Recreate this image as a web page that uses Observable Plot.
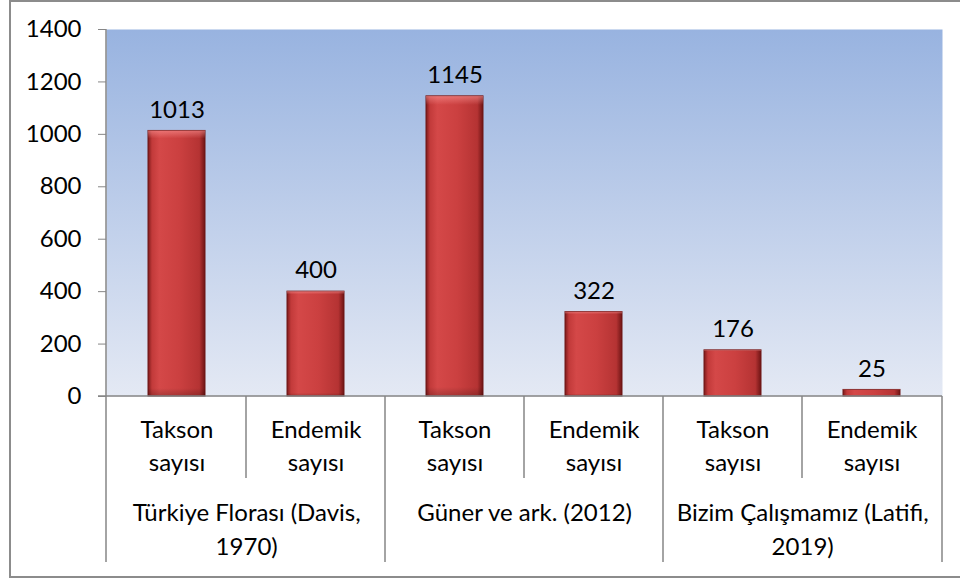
<!DOCTYPE html>
<html><head><meta charset="utf-8">
<script src="https://cdn.jsdelivr.net/npm/d3@7"></script>
<script src="https://cdn.jsdelivr.net/npm/@observablehq/plot@0.6"></script>
<style>
body{margin:0;background:#fff;}
#wrap{position:relative;width:960px;height:578px;overflow:hidden;font-family:Lato,sans-serif;}
#border{position:absolute;left:9px;top:0;width:990px;height:574px;border:2px solid #8c8c8c;}
#chart{position:absolute;left:0;top:0;}
</style></head><body>
<div id="wrap"><div id="border"></div><div id="chart"></div></div>
<script>
// ---- data ----
const groups = ["Türkiye Florası (Davis, 1970)", "Güner ve ark. (2012)", "Bizim Çalışmamız (Latifi, 2019)"];
const groupLabels = ["Türkiye Florası (Davis,\n1970)", "Güner ve ark. (2012)", "Bizim Çalışmamız (Latifi,\n2019)"];
const subcategories = ["Takson sayısı", "Endemik sayısı"];
const subLabels = ["Takson\nsayısı", "Endemik\nsayısı"];
const values = [1013, 400, 1145, 322, 176, 25];
const yTicks = [0, 200, 400, 600, 800, 1000, 1200, 1400];

// ---- tables ----
const data = values.map((v, i) => ({
  key: groups[Math.floor(i / 2)] + "|" + subcategories[i % 2],
  group: groups[Math.floor(i / 2)],
  subLabel: subLabels[i % 2],
  value: v
}));
const keys = data.map(d => d.key);
const groupData = groups.map((g, i) => ({key: keys[i * 2], label: groupLabels[i]}));

const W = 960, H = 578, mL = 106, mR = 18, mT = 29, mB = 182;
const step = (W - mL - mR) / keys.length;
const FS = 24;

function tableLines(index, scales, vals, dims) {
  const x = scales.x, y = scales.y;
  const st = x.step ? x.step() : step;
  const bw = x.bandwidth ? x.bandwidth() : st * 0.41;
  const y0 = y(0);
  const left = dims.marginLeft, right = dims.width - dims.marginRight;
  const innerBottom = y0 + 82, groupBottom = y0 + 166;
  const g = d3.create("svg:g").attr("stroke", "#868686").attr("stroke-width", 1.5).attr("fill", "none");
  g.append("line").attr("x1", left).attr("x2", left).attr("y1", dims.marginTop).attr("y2", groupBottom);
  g.append("line").attr("x1", left - 8).attr("x2", right).attr("y1", y0).attr("y2", y0);
  g.append("line").attr("x1", right).attr("x2", right).attr("y1", y0).attr("y2", groupBottom);
  keys.forEach((k, i) => {
    if (i === 0) return;
    const bx = x(k) - (st - bw) / 2;
    g.append("line").attr("x1", bx).attr("x2", bx).attr("y1", y0)
      .attr("y2", i % 2 === 0 ? groupBottom : innerBottom);
  });
  return g.node();
}

const svg = Plot.plot({
  width: W, height: H,
  marginLeft: mL, marginRight: mR, marginTop: mT, marginBottom: mB,
  style: {fontFamily: "Lato, sans-serif", fontSize: FS + "px", color: "black", background: "transparent", overflow: "visible"},
  x: {domain: keys, paddingInner: 0.59, paddingOuter: 0.295, axis: null},
  y: {domain: [0, 1400], axis: null},
  marks: [
    Plot.frame({fill: "url(#bgGrad)", stroke: "none"}),
    Plot.axisY({ticks: yTicks, tickFormat: d => String(d), tickSize: 8, tickPadding: 17, fontSize: FS, stroke: "#868686", fill: "black", label: null}),
    Plot.barY(data, {x: "key", y: "value", fill: "url(#barGrad)", stroke: "#6e1616", strokeWidth: 1}),
    Plot.barY(data, {x: "key", y: "value", fill: "url(#barShine)"}),
    tableLines,
    Plot.text(data, {x: "key", y: "value", text: d => String(d.value), dy: -21, fontSize: FS, fill: "black"}),
    Plot.text(data, {x: "key", frameAnchor: "bottom", lineAnchor: "top", dy: 18, text: "subLabel", lineHeight: 1.38, fontSize: FS, fill: "black"}),
    Plot.text(groupData, {x: "key", frameAnchor: "bottom", lineAnchor: "top", dx: step / 2, dy: 100, text: "label", lineHeight: 1.42, fontSize: FS, fill: "black"})
  ]
});

const defs = d3.select(svg).insert("defs", ":first-child");
const bg = defs.append("linearGradient").attr("id", "bgGrad").attr("x1", 0).attr("y1", 0).attr("x2", 0).attr("y2", 1);
bg.append("stop").attr("offset", 0).attr("stop-color", "#98b3e0");
bg.append("stop").attr("offset", 1).attr("stop-color", "#e4e9f4");
const bar = defs.append("linearGradient").attr("id", "barGrad").attr("x1", 0).attr("y1", 0).attr("x2", 1).attr("y2", 0);
[[0, "#7e1a1a"], [0.07, "#c23a3a"], [0.2, "#d44848"], [0.55, "#cb4040"], [0.9, "#b53333"], [1, "#6e1414"]]
  .forEach(([o, c]) => bar.append("stop").attr("offset", o).attr("stop-color", c));
const shine = defs.append("linearGradient").attr("id", "barShine").attr("x1", 0).attr("y1", 0).attr("x2", 0).attr("y2", 1);
shine.append("stop").attr("offset", 0).attr("stop-color", "#ff9a9a").attr("stop-opacity", 0.55);
shine.append("stop").attr("offset", 0.03).attr("stop-color", "#ff9a9a").attr("stop-opacity", 0);
shine.append("stop").attr("offset", 0.97).attr("stop-color", "#000").attr("stop-opacity", 0);
shine.append("stop").attr("offset", 1).attr("stop-color", "#000").attr("stop-opacity", 0.2);

document.getElementById("chart").appendChild(svg);
</script>
</body></html>
